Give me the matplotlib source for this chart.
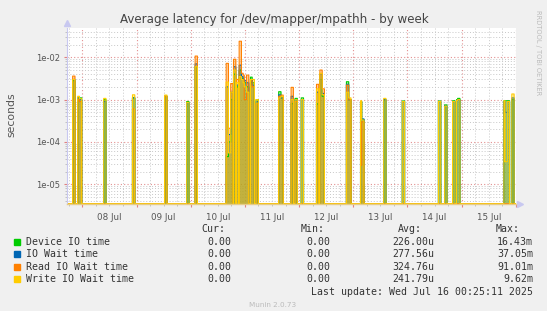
import numpy as np
import matplotlib
matplotlib.use("Agg")
import matplotlib.pyplot as plt
from matplotlib.patches import Rectangle
from matplotlib.ticker import FixedLocator, FuncFormatter, LogLocator, NullFormatter

# hours counted from 08 Jul 00:00, spike start times
spike_hours = [-4.4, -2.1, -1.5, 9.3, 22.1, 36.3, 46.2, 49.9, 63.6, 64.5, 65.5,
               66.9, 68.2, 69.3, 70.3, 71.0, 71.6, 72.5, 74.3, 75.0, 76.9, 86.8,
               87.9, 92.4, 94.2, 96.9, 103.5, 105.0, 106.2, 116.8, 117.9, 123.1,
               123.7, 133.3, 141.7, 157.7, 160.3, 163.9, 165.5, 166.1, 186.5,
               187.0, 188.2, 190.0]

device_io = [2.8e-3, 1.1e-3, 1.1e-3, 1.0e-3, 1.1e-3, 1.2e-3, 9e-4, 6e-3, 4.5e-5, 1e-4, 1e-3,
             4e-3, 2e-3, 5e-3, 3.2e-3, 3e-3, 2.5e-3, 2e-3, 3.4e-3, 2.5e-3, 1e-3, 1.54e-3,
             1.1e-3, 8e-4, 1.07e-3, 1.1e-3, 7.9e-4, 3e-3, 1.2e-3, 2.65e-3, 1e-3, 9e-4,
             3.4e-4, 1e-3, 9.3e-4, 9.3e-4, 7.5e-4, 9.4e-4, 1e-3, 1.07e-3, 9.4e-4,
             9.4e-4, 9.4e-4, 1e-3]
io_wait = [3e-3, 1.1e-3, 1.0e-3, 9e-4, 1.1e-3, 1.2e-3, 8.5e-4, 7e-3, 2e-3, 1.5e-4, 1.5e-3,
           6e-3, 2.2e-3, 6.5e-3, 3.5e-3, 3e-3, 2.8e-3, 2.5e-3, 3e-3, 2.2e-3, 9e-4, 1.3e-3,
           1.1e-3, 1.2e-3, 1e-3, 1e-3, 1.5e-3, 4e-3, 1.4e-3, 2.3e-3, 1e-3, 9e-4,
           3.5e-4, 1e-3, 9e-4, 9e-4, 7e-4, 9e-4, 9.5e-4, 1e-3, 9e-4,
           5e-4, 9e-4, 1.1e-3]
read_io = [3.6e-3, 1.0e-3, 9e-4, 0, 6e-4, 1.2e-3, 0, 1.07e-2, 7.2e-3, 2.1e-4, 2.4e-3,
           9e-3, 3e-3, 2.4e-2, 4.2e-3, 3.8e-3, 1e-3, 3.8e-3, 2.8e-3, 2e-3, 8e-4, 1.2e-3,
           1.28e-3, 1.95e-3, 9e-4, 0, 2.3e-3, 5e-3, 1.8e-3, 2.2e-3, 1e-3, 2.8e-5,
           3e-4, 0, 0, 0, 0, 0, 0, 0, 0,
           0, 0, 0]
write_io = [3.0e-3, 1.2e-3, 1.05e-3, 1.07e-3, 1.3e-3, 1.28e-3, 8.6e-4, 6e-3, 2.6e-3, 5.5e-5, 1.5e-3,
            5e-3, 2.5e-3, 3.5e-3, 3e-3, 2.5e-3, 2e-3, 1.5e-3, 3e-3, 3e-3, 1e-3, 1.1e-3,
            1.2e-3, 1e-3, 1e-3, 1e-3, 1.8e-3, 4.2e-3, 1.3e-3, 1.5e-3, 1.1e-3, 9.4e-4,
            3.3e-4, 1.07e-3, 9e-4, 9e-4, 7e-4, 9e-4, 9.5e-4, 1e-3, 9.4e-4,
            3.4e-5, 9e-4, 1.36e-3]

names = ["Device IO time", "IO Wait time", "Read IO Wait time", "Write IO Wait time"]
colors = ["#00CC00", "#0066B3", "#FF8000", "#FFCC00"]
cur = ["0.00", "0.00", "0.00", "0.00"]
mins = ["0.00", "0.00", "0.00", "0.00"]
avgs = ["226.00u", "277.56u", "324.76u", "241.79u"]
maxs = ["16.43m", "37.05m", "91.01m", "9.62m"]
day_labels = ["08 Jul", "09 Jul", "10 Jul", "11 Jul", "12 Jul", "13 Jul", "14 Jul", "15 Jul"]

W, H = 547, 311
ymin, ymax = 3.47e-6, 4.93e-2
xmin, xmax = -6.78, 192.07

def fx(x):
    return x / W

def fy(y):
    return 1 - y / H

fig = plt.figure(figsize=(W / 100, H / 100), dpi=100, facecolor="#F0F0F0")
ax = fig.add_axes([fx(67), fy(203.7), fx(516) - fx(67), fy(28) - fy(203.7)])
ax.set_facecolor("white")

t = np.arange(xmin, xmax, 0.25)
for vals, c in zip([device_io, io_wait, read_io, write_io], colors):
    y = np.zeros_like(t)
    for h, v in zip(spike_hours, vals):
        if v > 0:
            y[(t >= h) & (t < h + 1.0)] = v
    yp = np.where(y > 0, y, ymin)
    ax.fill_between(t, ymin, yp, step="post", color=c, alpha=0.38, lw=0)
    ax.step(t, yp, where="post", color=c, lw=0.8)

ax.set_yscale("log")
ax.set_xlim(xmin, xmax)
ax.set_ylim(ymin, ymax)

# grids: red at days / decades, gray at 6h / minor decades
ax.xaxis.set_major_locator(FixedLocator(np.arange(0, 193, 24)))
ax.xaxis.set_major_formatter(FuncFormatter(lambda x, p: ""))
ax.xaxis.set_minor_locator(FixedLocator(np.arange(-6, 193, 6)))
ax.xaxis.set_minor_formatter(FuncFormatter(
    lambda x, p: day_labels[int((x - 12) // 24)] if (x - 12) % 24 == 0 and 0 <= (x - 12) // 24 < 8 else ""))
ax.yaxis.set_major_locator(LogLocator(base=10, numticks=10))
ax.yaxis.set_major_formatter(FuncFormatter(lambda v, p: f"{v:.0e}"))
ax.yaxis.set_minor_locator(LogLocator(base=10, subs=np.arange(2, 10), numticks=20))
ax.yaxis.set_minor_formatter(NullFormatter())

ax.grid(which="major", color="#E39090", linestyle=(0, (1, 2)), lw=0.8)
ax.grid(which="minor", color="#C8C8C8", linestyle=(0, (1, 2)), lw=0.7)
ax.set_axisbelow(True)

ax.tick_params(which="major", length=2, color="#E08080", labelsize=6.3, labelcolor="#555555", pad=3)
ax.tick_params(which="minor", length=1.5, color="#BBBBBB", labelsize=6.3, labelcolor="#555555", pad=5)
ax.tick_params(axis="y", which="major", labelsize=6.0)

for s in ["top", "right"]:
    ax.spines[s].set_visible(False)
ax.spines["left"].set_color("#C8C8F0")
ax.spines["left"].set_linewidth(0.8)
ax.spines["bottom"].set_color("#E6CC88")
ax.spines["bottom"].set_linewidth(1.0)
ax.plot([0], [1.03], marker="^", ms=4, color="#C8C8F0", transform=ax.transAxes, clip_on=False)
ax.plot([1.01], [0], marker=">", ms=4, color="#C8C8F0", transform=ax.transAxes, clip_on=False)

fig.text(fx(11), fy(115), "seconds", rotation=90, ha="center", va="center",
         fontsize=7.8, color="#555555")

fig.text(fx(274), fy(20), "Average latency for /dev/mapper/mpathh - by week",
         ha="center", va="center", fontsize=8.6, color="#444444")
fig.text(fx(538), fy(53), "RRDTOOL / TOBI OETIKER", rotation=270, ha="center", va="center",
         fontsize=4.8, color="#BBBBBB")

mono = dict(family="DejaVu Sans Mono", fontsize=7.1, color="#333333", va="center")
fig.text(fx(225), fy(229.4), "Cur:", ha="right", **mono)
fig.text(fx(324.5), fy(229.4), "Min:", ha="right", **mono)
fig.text(fx(422), fy(229.4), "Avg:", ha="right", **mono)
fig.text(fx(520), fy(229.4), "Max:", ha="right", **mono)
rows_y = [241.6, 254.0, 266.6, 279.2]
for i in range(4):
    yy = rows_y[i]
    fig.patches.append(Rectangle((fx(14), fy(yy + 3)), fx(6), 6 / H, color=colors[i],
                                 transform=fig.transFigure, figure=fig))
    fig.text(fx(26), fy(yy), names[i], ha="left", **mono)
    fig.text(fx(231.3), fy(yy), cur[i], ha="right", **mono)
    fig.text(fx(330.4), fy(yy), mins[i], ha="right", **mono)
    fig.text(fx(434.4), fy(yy), avgs[i], ha="right", **mono)
    fig.text(fx(533.2), fy(yy), maxs[i], ha="right", **mono)
fig.text(fx(533.2), fy(292.2), "Last update: Wed Jul 16 00:25:11 2025", ha="right", **mono)
fig.text(fx(273), fy(305), "Munin 2.0.73", ha="center", va="center", fontsize=5.2, color="#BBBBBB")

fig.savefig("out.png", dpi=100, facecolor=fig.get_facecolor())
